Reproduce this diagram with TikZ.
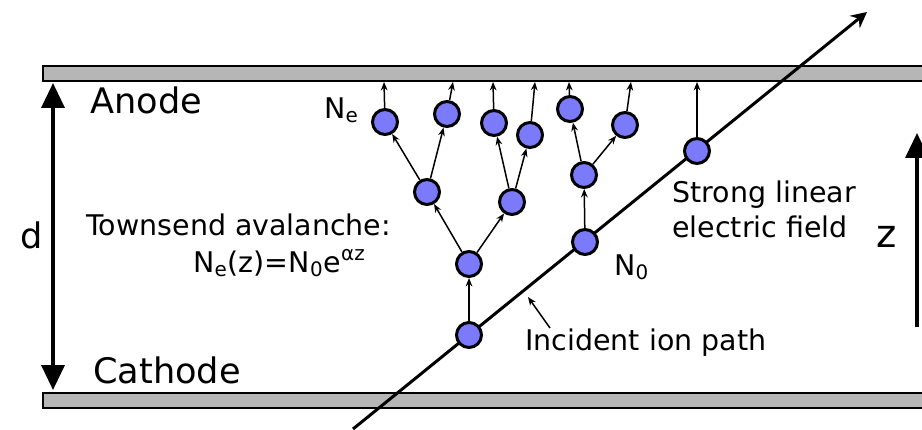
\documentclass[tikz,border=0pt]{standalone}
\usepackage{fontspec}
\setmainfont{DejaVu Sans}
\usetikzlibrary{arrows.meta, calc}

\definecolor{electronblue}{RGB}{122,122,250}
\definecolor{plategray}{RGB}{182,182,182}

\begin{document}
\begin{tikzpicture}[
  x=0.02cm, y=-0.02cm,
  plate/.style={draw=black, fill=plategray, line width=1.6pt},
  electron/.style={circle, draw=black, fill=electronblue, line width=1.7pt, minimum size=0.5cm, inner sep=0pt},
  drift/.style={-{Stealth[length=4.8pt, width=3.8pt]}, line width=0.85pt},
  ionpath/.style={-{Stealth[length=9pt, width=9pt, inset=3pt]}, line width=1.7pt},
  gaparrow/.style={{Triangle[length=0.5cm, width=0.46cm]}-{Triangle[length=0.5cm, width=0.46cm]}, line width=2pt},
  zarrow/.style={-{Triangle[length=0.5cm, width=0.46cm]}, line width=2pt},
  bigtext/.style={font=\fontsize{20}{24}\selectfont, inner sep=0pt},
  smalltext/.style={font=\fontsize{16.2}{19.4}\selectfont, inner sep=0pt},
]
\useasboundingbox (0,0) rectangle (922,429);

%% ── Electrode plates ─────────────────────────────────────────────────────────
\draw[plate] (43,66) rectangle (935,81);
\draw[plate] (43,393) rectangle (935,408);

%% ── Incident ion path ────────────────────────────────────────────────────────
\coordinate (ionin)  at (353,429);
\coordinate (ionout) at (867,12);
\draw[ionpath] (ionin) -- (ionout);

%% ── Primary electrons on the ion path ────────────────────────────────────────
\node[electron] (ion1) at (469,335) {};
\node[electron] (ion2) at (585,242) {};
\node[electron] (ion3) at (697,151) {};

%% ── Avalanche electrons ──────────────────────────────────────────────────────
\node[electron] (a1) at (469,264) {};
\node[electron] (b1) at (427,192) {};
\node[electron] (b2) at (512,202) {};
\node[electron] (b3) at (584,175) {};
\node[electron] (c1) at (385,122) {};
\node[electron] (c2) at (447,114) {};
\node[electron] (c3) at (494,123) {};
\node[electron] (c4) at (530,135) {};
\node[electron] (c5) at (570,109) {};
\node[electron] (c6) at (625,125) {};

%% ── Multiplication steps ─────────────────────────────────────────────────────
\foreach \src/\dst in {ion1/a1, a1/b1, a1/b2, b1/c1, b1/c2, b2/c3, b2/c4, ion2/b3, b3/c5, b3/c6} {
  \draw[drift] (\src) -- (\dst);
}

%% ── Collection at the anode ──────────────────────────────────────────────────
\foreach \src/\px in {c1/384, c2/453, c3/493, c4/535, c5/569, c6/631, ion3/697} {
  \coordinate (hit\src) at (\px,82);
  \draw[drift] (\src) -- (hit\src);
}

%% ── Gap and field direction ──────────────────────────────────────────────────
\coordinate (dtop) at (53,83);
\coordinate (dbot) at (53,390);
\draw[gaparrow] (dtop) -- (dbot);
\node[bigtext, anchor=base west] (dlabel) at (20,248) {d};

\coordinate (zbot) at (917,327);
\coordinate (ztop) at (917,133);
\draw[zarrow] (zbot) -- (ztop);
\node[bigtext, font=\fontsize{22}{26}\selectfont, anchor=base west] (zlabel) at (876,247) {z};

%% ── Labels ───────────────────────────────────────────────────────────────────
\node[bigtext, anchor=base west] (anode)   at (90,113) {Anode};
\node[bigtext, anchor=base west] (cathode) at (93,383) {Cathode};
\node[smalltext, anchor=base west] (townsend) at (86,235) {Townsend avalanche:};
\node[smalltext, anchor=base west] (formula)  at (193,272)
  {N\textsubscript{e}(z)=N\textsubscript{0}e\textsuperscript{αz}};
\node[smalltext, anchor=base west] (nelabel) at (324,118) {N\textsubscript{e}};
\node[smalltext, anchor=base west] (nolabel) at (614,275) {N\textsubscript{0}};
\node[smalltext, anchor=north west, align=left] (field) at (672,181)
  {Strong linear\\electric field};
\node[smalltext, anchor=base west] (ionlabel) at (525,350) {Incident ion path};

\coordinate (phead) at (528,297);
\draw[drift] ($(ionlabel.north west)+(25,0)$) -- (phead);

\end{tikzpicture}
\end{document}
